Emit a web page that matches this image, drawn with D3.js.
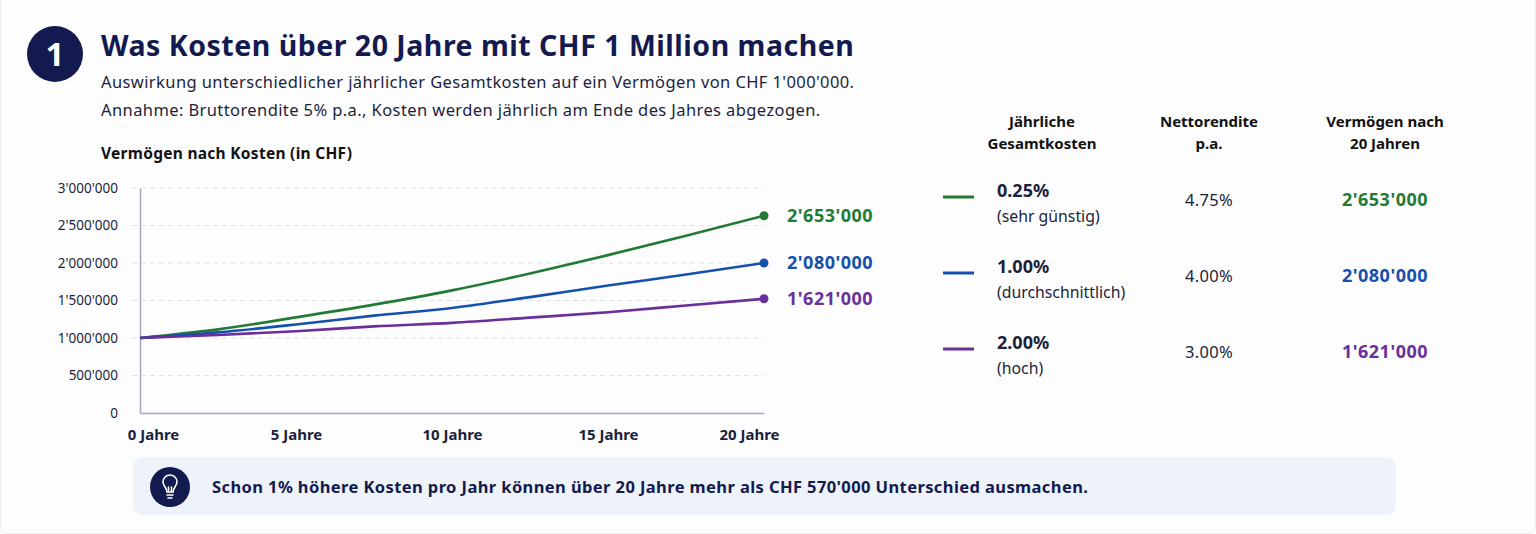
<!DOCTYPE html>
<html>
<head>
<meta charset="utf-8">
<script src="https://cdn.jsdelivr.net/npm/d3@7"></script>
<style>
  html, body { margin: 0; padding: 0; background: #fdfdfe; }
  svg { display: block; font-family: "Noto Sans", "Lato", sans-serif; }
  .axis path, .axis line { stroke: #a3a6bd; }
  .axis text { fill: #1b1f3b; font-family: "Noto Sans", sans-serif; }
</style>
</head>
<body>
<svg id="chart"></svg>
<script>
// years on the x axis (read every 2.5 years from the picture)
const years = [0, 2.5, 5, 7.5, 10, 12.5, 15, 17.5, 20];
const xTicks = [0, 5, 10, 15, 20];
const yTicks = [0, 500000, 1000000, 1500000, 2000000, 2500000, 3000000];

// wealth after costs, CHF
const lowCost  = [1000000, 1115000, 1275000, 1445000, 1635000, 1860000, 2105000, 2362000, 2630000];
const midCost  = [1000000, 1075000, 1180000, 1298000, 1400000, 1545000, 1700000, 1846000, 2000000];
const highCost = [1000000, 1040000, 1090000, 1155000, 1202000, 1272000, 1344000, 1433000, 1523000];

const seriesNames = ['0.25%', '1.00%', '2.00%'];
const seriesNotes = ['(sehr günstig)', '(durchschnittlich)', '(hoch)'];
const netReturns = ['4.75%', '4.00%', '3.00%'];
const endLabels = ["2'653'000", "2'080'000", "1'621'000"];
const colors = ['#237a33', '#1550ac', '#6a2f9a'];

const navy = '#131a4f';
const ink = '#1b1f3b';

const W = 1536, H = 534;
const svg = d3.select('#chart').attr('width', W).attr('height', H);

// small helper for text styling
function txt(sel, size, weight, spacing) {
  return sel.style('font-size', size + 'px').style('font-weight', weight || 400)
    .style('letter-spacing', (spacing || 0) + 'px');
}

// card edges
svg.append('rect').attr('x', 0.5).attr('y', -10).attr('width', W - 1).attr('height', H - 0.5 + 10)
  .attr('rx', 6).attr('fill', '#fdfdfe').attr('stroke', '#eceef2');

// header badge
svg.append('circle').attr('cx', 55).attr('cy', 54).attr('r', 28).attr('fill', navy);
txt(svg.append('text').attr('x', 55).attr('y', 66).attr('text-anchor', 'middle')
  .attr('fill', '#fff'), 33, 700).text('1');

txt(svg.append('text').attr('x', 101).attr('y', 56).attr('fill', navy), 28.5, 700, 0.5)
  .text('Was Kosten über 20 Jahre mit CHF 1 Million machen');
txt(svg.append('text').attr('x', 101).attr('y', 88).attr('fill', ink), 16.5, 400, 0.4)
  .text("Auswirkung unterschiedlicher jährlicher Gesamtkosten auf ein Vermögen von CHF 1'000'000.");
txt(svg.append('text').attr('x', 101).attr('y', 116).attr('fill', ink), 16.5, 400, 0.4)
  .text('Annahme: Bruttorendite 5% p.a., Kosten werden jährlich am Ende des Jahres abgezogen.');
txt(svg.append('text').attr('x', 101).attr('y', 159).attr('fill', '#111'), 15.5, 700, 0.28)
  .text('Vermögen nach Kosten (in CHF)');

// line chart
const margin = {left: 140, top: 188};
const width = 624, height = 225;
const g = svg.append('g').attr('transform', `translate(${margin.left},${margin.top})`);

const x = d3.scaleLinear().domain([0, 20]).range([0, width]);
const y = d3.scaleLinear().domain([0, 3000000]).range([height, 0]);
const chf = d3.formatLocale({decimal: '.', thousands: "'", grouping: [3], currency: ['', '']}).format(',');

g.append('g').selectAll('line').data(yTicks.slice(1)).join('line')
  .attr('x1', -8).attr('x2', width).attr('y1', d => y(d)).attr('y2', d => y(d))
  .attr('stroke', '#dfe1e7').attr('stroke-dasharray', '5,4');

const yAxis = g.append('g').attr('class', 'axis')
  .call(d3.axisLeft(y).tickValues(yTicks).tickFormat(chf).tickSize(0).tickPadding(22));
yAxis.select('.domain').attr('stroke-width', 1.5);
txt(yAxis.selectAll('text'), 13.5, 400);

const xAxis = g.append('g').attr('class', 'axis').attr('transform', `translate(0,${height})`)
  .call(d3.axisBottom(x).tickValues(xTicks).tickFormat(d => d + ' Jahre').tickSize(0).tickPadding(16));
xAxis.select('.domain').attr('stroke-width', 1.5);
txt(xAxis.selectAll('text'), 15, 700)
  .attr('dx', d => d === 0 ? 13 : d === 20 ? -15 : 0);

const series = [lowCost, midCost, highCost];
const line = d3.line().x((d, i) => x(years[i])).y(d => y(d)).curve(d3.curveMonotoneX);

g.selectAll('.series').data(series).join('path')
  .attr('class', 'series')
  .attr('d', line).attr('fill', 'none')
  .attr('stroke', (d, i) => colors[i]).attr('stroke-width', 2.6);

g.selectAll('.end').data(series).join('circle')
  .attr('class', 'end')
  .attr('cx', x(20)).attr('cy', d => y(d[d.length - 1])).attr('r', 4.5)
  .attr('fill', (d, i) => colors[i]);

txt(g.selectAll('.endlabel').data(series).join('text')
  .attr('class', 'endlabel')
  .attr('x', x(20) + 23).attr('y', d => y(d[d.length - 1])).attr('dy', '0.35em')
  .attr('fill', (d, i) => colors[i]), 18, 700, 0.5)
  .text((d, i) => endLabels[i]);

// table / legend
const colX = [1042, 1209, 1385];
const headers = [['Jährliche', 'Gesamtkosten'], ['Nettorendite', 'p.a.'], ['Vermögen nach', '20 Jahren']];
headers.forEach((h, i) => {
  h.forEach((t, j) => {
    txt(svg.append('text').attr('x', colX[i]).attr('y', 127 + j * 22).attr('text-anchor', 'middle')
      .attr('fill', '#111'), 15, 700).text(t);
  });
});

const rowY = [198, 274, 350];
seriesNames.forEach((name, i) => {
  const r = rowY[i];
  svg.append('line').attr('x1', 943).attr('x2', 974).attr('y1', r - 1).attr('y2', r - 1)
    .attr('stroke', colors[i]).attr('stroke-width', 3);
  txt(svg.append('text').attr('x', 997).attr('y', r - 1).attr('fill', ink), 18, 700)
    .text(name);
  txt(svg.append('text').attr('x', 997).attr('y', r + 24).attr('fill', ink), 15.8, 400)
    .text(seriesNotes[i]);
  txt(svg.append('text').attr('x', colX[1]).attr('y', r + 8).attr('text-anchor', 'middle')
    .attr('fill', ink), 16.5, 400, 0.3).text(netReturns[i]);
  txt(svg.append('text').attr('x', colX[2]).attr('y', r + 8).attr('text-anchor', 'middle')
    .attr('fill', colors[i]), 18, 700, 0.5).text(endLabels[i]);
});

// callout
svg.append('rect').attr('x', 133).attr('y', 457).attr('width', 1263).attr('height', 58)
  .attr('rx', 10).attr('fill', '#eef2f9');
svg.append('circle').attr('cx', 170).attr('cy', 487).attr('r', 20).attr('fill', navy);
const bulb = svg.append('g').attr('transform', 'translate(170,487)')
  .attr('fill', 'none').attr('stroke', '#fff').attr('stroke-width', 1.6).attr('stroke-linecap', 'round');
bulb.append('path').attr('d', 'M-3,5 C-3,1 -7,-1 -7,-5 A7,7 0 1 1 7,-5 C7,-1 3,1 3,5 Z');
bulb.append('line').attr('x1', -3).attr('x2', 3).attr('y1', 8).attr('y2', 8);
bulb.append('line').attr('x1', -2).attr('x2', 2).attr('y1', 11).attr('y2', 11);
bulb.append('path').attr('d', 'M-1.5,5 L-1.5,0 M1.5,5 L1.5,0');
txt(svg.append('text').attr('x', 212).attr('y', 493).attr('fill', navy), 16.5, 700, 0.4)
  .text("Schon 1% höhere Kosten pro Jahr können über 20 Jahre mehr als CHF 570'000 Unterschied ausmachen.");
</script>
</body>
</html>
